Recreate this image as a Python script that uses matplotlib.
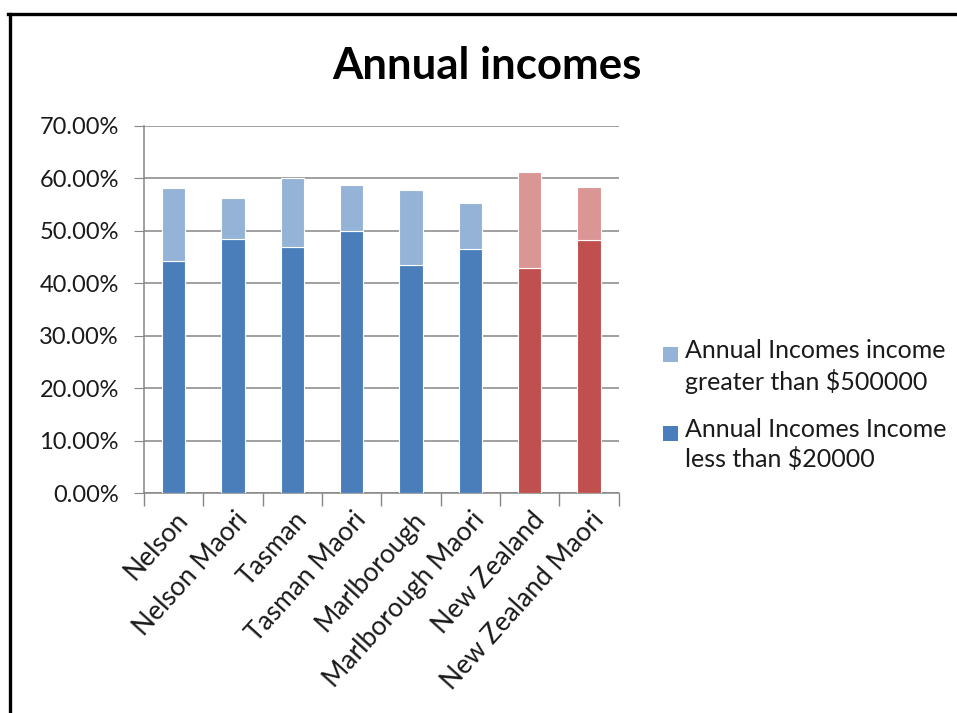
import matplotlib
matplotlib.use("Agg")
import matplotlib.pyplot as plt
import matplotlib.transforms as mtransforms
from matplotlib.patches import Rectangle
from matplotlib.lines import Line2D
from matplotlib.ticker import FuncFormatter, FixedLocator
import numpy as np

plt.rcParams['font.family'] = ['Lato', 'DejaVu Sans']

# income shares by area (percent)
areas = ['Nelson', 'Nelson Maori', 'Tasman', 'Tasman Maori', 'Marlborough',
         'Marlborough Maori', 'New Zealand', 'New Zealand Maori']
under_20k = [44.2, 48.4, 47.0, 49.9, 43.5, 46.5, 43.0, 48.2]
over_500k = [14.0, 7.8, 13.0, 8.8, 14.2, 8.8, 18.2, 10.2]
legend_labels = ['Annual Incomes income\ngreater than $500000',
                 'Annual Incomes Income\nless than $20000']

# regional bars blue, national comparison bars red
dark = ['#4A7EBB'] * 6 + ['#C0504D'] * 2
light = ['#95B3D7'] * 6 + ['#DA9694'] * 2
grid_col = '#868686'

W, H = 957, 713
fig = plt.figure(figsize=(W / 100, H / 100), dpi=100)
ax = fig.add_axes([144 / W, 1 - 493.3 / H, 474.7 / W, 367.5 / H])

x = np.arange(len(areas))
ax.bar(x, under_20k, width=0.39, color=dark, edgecolor='white', linewidth=0.8, zorder=3)
ax.bar(x, over_500k, width=0.39, bottom=under_20k, color=light,
       edgecolor='white', linewidth=0.8, zorder=3)

ax.set_xlim(-0.5, len(areas) - 0.5)
ax.set_ylim(0, 70)
ax.set_yticks(np.arange(0, 71, 10))
ax.yaxis.set_major_formatter(FuncFormatter(lambda v, p: f'{v:.2f}%'))
ax.yaxis.grid(True, color=grid_col, linewidth=1.1, zorder=0)
ax.tick_params(axis='y', length=7, color=grid_col, labelsize=17, pad=11, labelcolor='#1a1a1a')

# labels at bar centres, tick marks between categories
ax.set_xticks(x)
ax.set_xticklabels(areas, rotation=48, ha='right', rotation_mode='anchor')
ax.xaxis.set_minor_locator(FixedLocator(np.arange(-0.5, len(areas), 1)))
ax.tick_params(axis='x', which='major', length=0, pad=10, labelsize=19, labelcolor='#1a1a1a')
ax.tick_params(axis='x', which='minor', length=9, color=grid_col, width=1)
shift = mtransforms.ScaledTranslation(1 / 100, 0, fig.dpi_scale_trans)
for lab in ax.get_xticklabels():
    lab.set_transform(lab.get_transform() + shift)

for side in ['top', 'right']:
    ax.spines[side].set_visible(False)
for side in ['left', 'bottom']:
    ax.spines[side].set_color(grid_col)
    ax.spines[side].set_linewidth(1.1)

fig.text(486.7 / W, 1 - 79 / H, 'Annual incomes', ha='center', va='baseline',
         fontsize=31.5, fontweight='bold', color='black')

# legend: square swatch next to the first line of each label
for (colr, label, cy) in [(light[0], legend_labels[0], 354), (dark[0], legend_labels[1], 433)]:
    fig.patches.append(Rectangle((663 / W, 1 - (cy + 7.5) / H), 15 / W, 15 / H,
                                 transform=fig.transFigure, facecolor=colr,
                                 edgecolor='none'))
    fig.text(685 / W, 1 - (cy - 15) / H, label, ha='left', va='top',
             fontsize=18, linespacing=1.32, color='#1a1a1a')

# frame lines along the top and left edge
fig.add_artist(Line2D([9.5 / W, 9.5 / W], [0, 1 - 13.5 / H], color='black',
                      linewidth=2.4, transform=fig.transFigure))
fig.add_artist(Line2D([8.3 / W, 1], [1 - 13.5 / H, 1 - 13.5 / H], color='black',
                      linewidth=2.4, transform=fig.transFigure))

fig.savefig('out.png', dpi=100, facecolor='white')
